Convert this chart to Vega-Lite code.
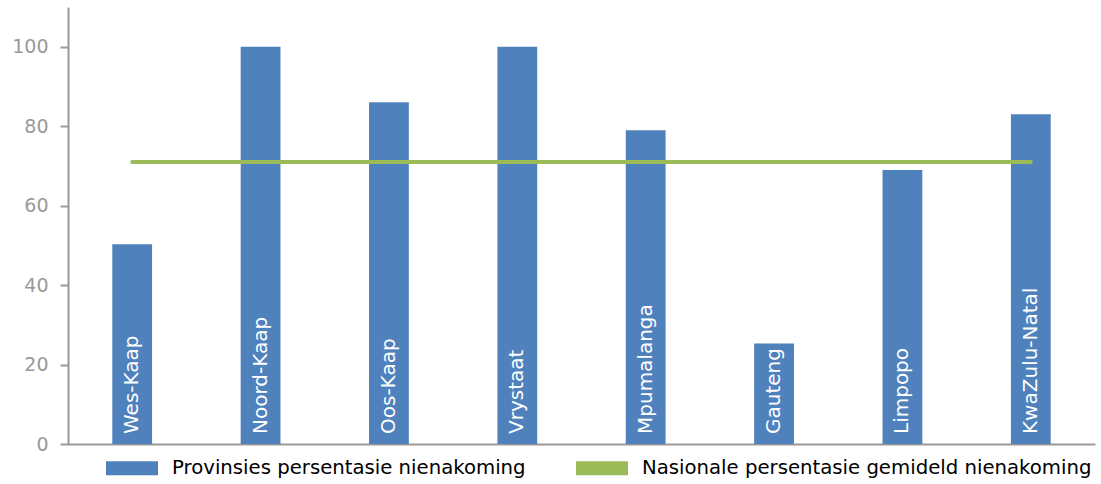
{
  "$schema": "https://vega.github.io/schema/vega-lite/v6.json",
  "width": 1027,
  "height": 437,
  "autosize": {"type": "none"},
  "padding": {"left": 68, "top": 7, "right": 6, "bottom": 40},
  "background": "white",
  "data": {
    "values": [
      {"provinsie": "Wes-Kaap", "waarde": 50.3, "nasionaal": 71, "reeks": "Provinsies persentasie nienakoming"},
      {"provinsie": "Noord-Kaap", "waarde": 100, "nasionaal": 71, "reeks": "Provinsies persentasie nienakoming"},
      {"provinsie": "Oos-Kaap", "waarde": 86, "nasionaal": 71, "reeks": "Provinsies persentasie nienakoming"},
      {"provinsie": "Vrystaat", "waarde": 100, "nasionaal": 71, "reeks": "Provinsies persentasie nienakoming"},
      {"provinsie": "Mpumalanga", "waarde": 79, "nasionaal": 71, "reeks": "Provinsies persentasie nienakoming"},
      {"provinsie": "Gauteng", "waarde": 25.3, "nasionaal": 71, "reeks": "Provinsies persentasie nienakoming"},
      {"provinsie": "Limpopo", "waarde": 69, "nasionaal": 71, "reeks": "Provinsies persentasie nienakoming"},
      {"provinsie": "KwaZulu-Natal", "waarde": 83, "nasionaal": 71, "reeks": "Provinsies persentasie nienakoming"}
    ]
  },
  "encoding": {
    "x": {
      "field": "provinsie", "type": "nominal", "sort": null,
      "scale": {"paddingInner": 0.69, "paddingOuter": 0.345},
      "axis": {"labels": false, "ticks": false, "title": null, "domainColor": "#999999", "domainWidth": 2}
    }
  },
  "layer": [
    {
      "mark": {"type": "bar", "color": "#4F81BD"},
      "encoding": {
        "y": {
          "field": "waarde", "type": "quantitative",
          "scale": {"domain": [0, 110], "nice": false},
          "axis": {"values": [0, 20, 40, 60, 80, 100], "title": null}
        },
        "fill": {
          "field": "reeks", "type": "nominal",
          "scale": {"domain": ["Provinsies persentasie nienakoming", "Nasionale persentasie gemideld nienakoming"], "range": ["#4F81BD", "#9BBB59"]},
          "legend": {
            "title": null, "orient": "none", "legendX": 38, "legendY": 435, "direction": "horizontal",
            "symbolType": "M-1,-0.27H1V0.27H-1Z", "symbolSize": 2704, "symbolStrokeWidth": 0,
            "labelFontSize": 19.7, "labelColor": "#000000", "labelFont": "DejaVu Sans",
            "labelOffset": 14, "columnPadding": 50, "labelLimit": 0
          }
        }
      }
    },
    {
      "mark": {"type": "text", "angle": 270, "align": "left", "baseline": "middle", "dx": 10, "color": "white", "fontSize": 20, "font": "DejaVu Sans"},
      "encoding": {
        "y": {"datum": 0, "type": "quantitative"},
        "text": {"field": "provinsie"}
      }
    },
    {
      "mark": {"type": "line", "color": "#9BBB59", "strokeWidth": 4, "strokeCap": "round"},
      "encoding": {
        "y": {"field": "nasionaal", "type": "quantitative"}
      }
    }
  ],
  "config": {
    "view": {"stroke": null},
    "axisY": {"grid": false, "domainColor": "#999999", "domainWidth": 2, "tickColor": "#999999", "tickWidth": 2,
              "tickSize": 8, "labelColor": "#999999", "labelFontSize": 19, "labelPadding": 12,
              "labelFont": "DejaVu Sans"}
  }
}
